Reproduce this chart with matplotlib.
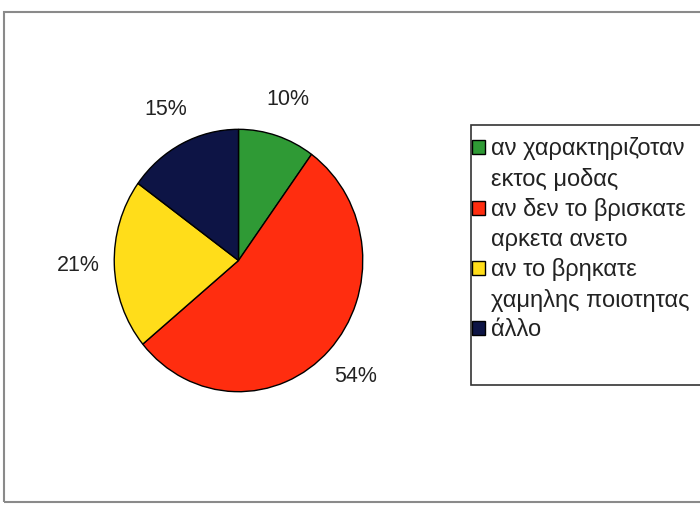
import matplotlib
matplotlib.use("Agg")
import matplotlib.pyplot as plt
from matplotlib.patches import Rectangle

# data
labels = ["αν χαρακτηριζοταν\nεκτος μοδας",
          "αν δεν το βρισκατε\nαρκετα ανετο",
          "αν το βρηκατε\nχαμηλης ποιοτητας",
          "άλλο"]
shares = [10, 54, 21, 15]
colors = ["#2f9a35", "#ff2d0f", "#ffdd1a", "#0d1445"]

plt.rcParams["font.family"] = ["Liberation Sans", "DejaVu Sans"]

W, H = 700, 507
fig = plt.figure(figsize=(W / 100, H / 100), dpi=100)

def px(x0, y0, x1, y1):
    # pixel box (top-left origin) -> figure fraction rect
    return [x0 / W, 1 - y1 / H, (x1 - x0) / W, (y1 - y0) / H]

# outer frame
l, b, w, h = px(4, 12, 710, 502)
fig.patches.append(Rectangle((l, b), w, h, transform=fig.transFigure,
                             fill=False, edgecolor="#8a8a8a", lw=1.5))

# pie (scan is a touch taller than wide, so no equal aspect)
ax = fig.add_axes(px(113, 128, 364, 393))
wedges, texts, autotexts = ax.pie(
    shares, colors=colors, startangle=90, counterclock=False, radius=1.0,
    wedgeprops=dict(edgecolor="black", linewidth=1.0),
    autopct="%.0f%%", pctdistance=1.29,
    textprops=dict(fontsize=15.5, color="#222222"))
ax.set_xlim(-1.01, 1.01)
ax.set_ylim(-1.01, 1.01)
ax.set_aspect("auto")
ax.axis("off")

# legend box
l, b, w, h = px(471, 125, 710, 385)
fig.patches.append(Rectangle((l, b), w, h, transform=fig.transFigure,
                             facecolor="white", edgecolor="#333333", lw=1.2))

# one legend row per text line, so the swatch sits beside the first line
handles, rows = [], []
for wdg, lab in zip(wedges, labels):
    for i, line in enumerate(lab.split("\n")):
        if i == 0:
            handles.append(wdg)
        else:
            handles.append(Rectangle((0, 0), 1, 1, fill=False, lw=0))
        rows.append(line)

leg = fig.legend(handles, rows, loc="upper left",
                 bbox_to_anchor=(472 / W, 1 - 137 / H),
                 frameon=False, fontsize=17, handlelength=0.55,
                 handleheight=0.55, handletextpad=0.25, labelspacing=0.32,
                 borderaxespad=0, borderpad=0)
for t in leg.get_texts():
    t.set_color("#222222")

fig.savefig("out.png", dpi=100, facecolor="white")
